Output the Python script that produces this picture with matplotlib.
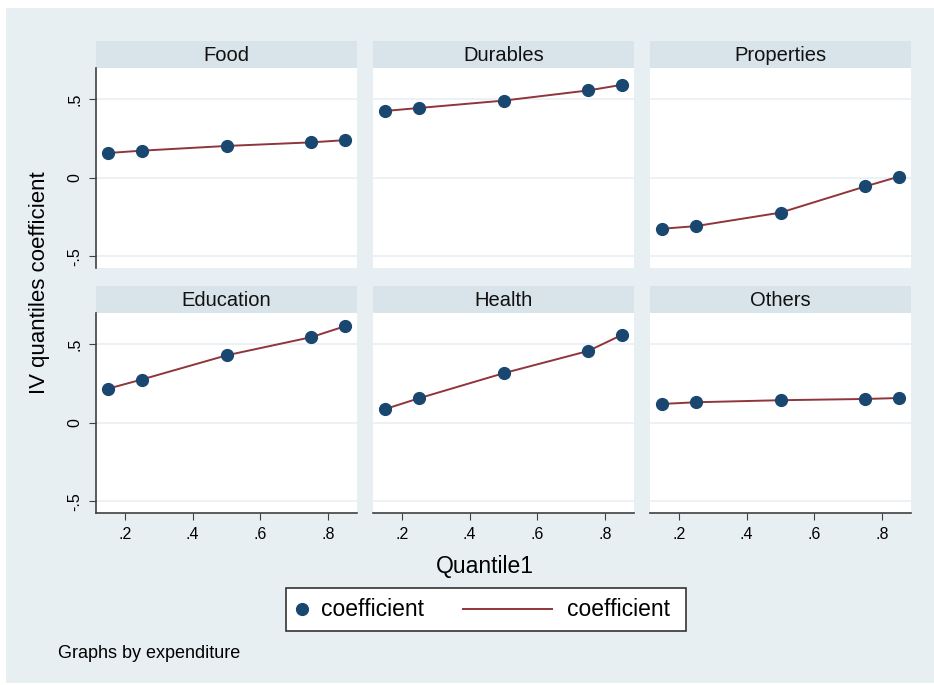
import numpy as np
import matplotlib.pyplot as plt
from matplotlib.patches import Rectangle
from matplotlib.lines import Line2D

plt.rcParams['font.family'] = ['Liberation Sans', 'DejaVu Sans']

# data
quantiles = [0.15, 0.25, 0.50, 0.75, 0.85]
panels = ['Food', 'Durables', 'Properties', 'Education', 'Health', 'Others']
food = [0.158, 0.173, 0.203, 0.226, 0.240]
durables = [0.426, 0.445, 0.492, 0.557, 0.593]
properties = [-0.325, -0.308, -0.222, -0.055, 0.008]
education = [0.217, 0.276, 0.430, 0.546, 0.616]
health = [0.087, 0.156, 0.316, 0.458, 0.561]
others = [0.120, 0.131, 0.144, 0.152, 0.158]
coefs = [food, durables, properties, education, health, others]

xticks = [0.2, 0.4, 0.6, 0.8]
xticklabels = ['.2', '.4', '.6', '.8']
yticks = [-0.5, 0, 0.5]
yticklabels = ['-.5', '0', '.5']
legend_labels = ['coefficient', 'coefficient']

W, H = 934, 685
bg = '#e8eff2'
strip = '#d8e4ea'
navy = '#1a476f'
maroon = '#90353b'
axcol = '#404040'

fig = plt.figure(figsize=(W / 100, H / 100), dpi=100)
fig.patch.set_facecolor('white')
fig.patches.append(Rectangle((6 / W, 0.003), 1, 1 - 8 / H - 0.003,
                             transform=fig.transFigure, facecolor=bg,
                             edgecolor='none', zorder=-10))

lefts = [96, 373, 650]
pw = 261
rows = [(41, 68, 268), (286, 313, 513)]

def fx(px):
    return px / W

def fy(py):
    return 1 - py / H

for i, (name, vals) in enumerate(zip(panels, coefs)):
    r, c = divmod(i, 3)
    stop, ptop, pbot = rows[r]
    x0 = lefts[c]
    # strip header
    sax = fig.add_axes([fx(x0), fy(ptop), fx(pw), (ptop - stop) / H])
    sax.set_facecolor(strip)
    for s in sax.spines.values():
        s.set_visible(False)
    sax.set_xticks([])
    sax.set_yticks([])
    sax.text(0.5, 0.48, name, ha='center', va='center', fontsize=14.5,
             color='#111111', transform=sax.transAxes)

    ax = fig.add_axes([fx(x0), fy(pbot), fx(pw), (pbot - ptop) / H])
    ax.set_facecolor('white')
    ax.set_xlim(0.115, 0.885)
    ax.set_ylim(-0.575, 0.70)
    for y in yticks:
        ax.axhline(y, color=bg, lw=1.2, zorder=0)
    ax.plot(quantiles, vals, color=maroon, lw=1.4, zorder=2)
    ax.plot(quantiles, vals, 'o', color=navy, ms=8.5, zorder=3)
    for s in ['top', 'right']:
        ax.spines[s].set_visible(False)
    ax.spines['left'].set_visible(c == 0)
    ax.spines['bottom'].set_visible(r == 1)
    ax.spines['left'].set_color(axcol)
    ax.spines['bottom'].set_color(axcol)
    ax.spines['left'].set_linewidth(1.2)
    ax.spines['bottom'].set_linewidth(1.2)
    if r == 1:
        ax.set_xticks(xticks)
        ax.set_xticklabels(xticklabels, fontsize=11.5)
        ax.tick_params(axis='x', length=5, color=axcol, pad=5)
    else:
        ax.set_xticks([])
    if c == 0:
        ax.set_yticks(yticks)
        ax.set_yticklabels(yticklabels, fontsize=11.5, rotation=90,
                           va='center')
        ax.tick_params(axis='y', length=5, color=axcol, pad=5)
    else:
        ax.set_yticks([])

fig.text(fx(40), fy(283), 'IV quantiles coefficient', rotation=90,
         ha='center', va='center', fontsize=16)
fig.text(fx(485), fy(566), 'Quantile1', ha='center', va='center',
         fontsize=16.5)

# legend drawn by hand: short marker key, long line key, like Stata
fig.patches.append(Rectangle((fx(286), fy(631)), fx(400), 43 / H,
                             transform=fig.transFigure, facecolor='white',
                             edgecolor='#333333', lw=1.2, zorder=5))
fig.add_artist(Line2D([fx(302)], [fy(609)], ls='none', marker='o',
                      color=navy, ms=8.5, transform=fig.transFigure,
                      zorder=6))
fig.text(fx(321), fy(609), legend_labels[0], ha='left', va='center',
         fontsize=16.5, zorder=6)
fig.add_artist(Line2D([fx(463), fx(552)], [fy(609), fy(609)], color=maroon,
                      lw=1.4, transform=fig.transFigure, zorder=6))
fig.text(fx(567), fy(609), legend_labels[1], ha='left', va='center',
         fontsize=16.5, zorder=6)

fig.text(fx(58), fy(654), 'Graphs by expenditure', ha='left', va='center',
         fontsize=13)

fig.savefig('out.png', dpi=100, facecolor=fig.get_facecolor())
